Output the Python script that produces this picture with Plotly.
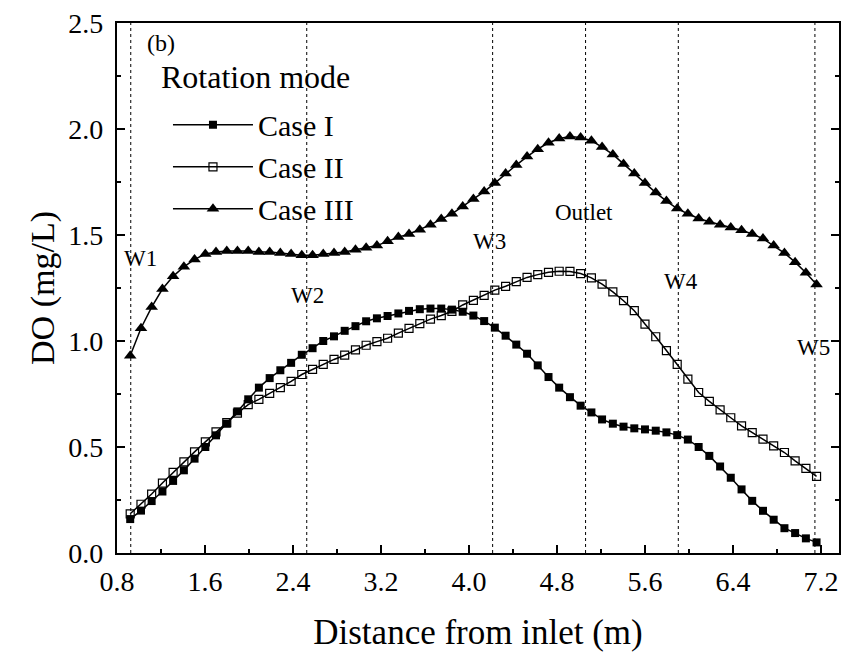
import plotly.graph_objects as go

# ---------------- data ----------------
distance = [0.920, 1.018, 1.115, 1.213, 1.310, 1.408, 1.505, 1.603, 1.700, 1.798,
            1.895, 1.993, 2.090, 2.188, 2.285, 2.383, 2.480, 2.578, 2.675, 2.773,
            2.870, 2.968, 3.065, 3.163, 3.260, 3.358, 3.455, 3.553, 3.650, 3.748,
            3.845, 3.943, 4.040, 4.138, 4.235, 4.333, 4.430, 4.528, 4.625, 4.723,
            4.820, 4.918, 5.015, 5.113, 5.210, 5.308, 5.405, 5.503, 5.600, 5.698,
            5.795, 5.893, 5.990, 6.088, 6.185, 6.283, 6.380, 6.478, 6.575, 6.673,
            6.770, 6.868, 6.965, 7.063, 7.160]

case_1 = [0.160, 0.200, 0.245, 0.290, 0.340, 0.390, 0.445, 0.500, 0.555, 0.610,
          0.668, 0.725, 0.780, 0.825, 0.862, 0.897, 0.935, 0.966, 1.000, 1.022,
          1.048, 1.070, 1.093, 1.107, 1.118, 1.130, 1.142, 1.150, 1.153, 1.153,
          1.148, 1.138, 1.120, 1.094, 1.063, 1.025, 0.983, 0.940, 0.885, 0.830,
          0.780, 0.735, 0.695, 0.663, 0.630, 0.610, 0.596, 0.588, 0.583, 0.577,
          0.569, 0.556, 0.535, 0.500, 0.458, 0.408, 0.355, 0.300, 0.246, 0.199,
          0.157, 0.117, 0.094, 0.069, 0.050]

case_2 = [0.185, 0.230, 0.278, 0.330, 0.380, 0.430, 0.477, 0.524, 0.571, 0.615,
          0.660, 0.700, 0.725, 0.753, 0.780, 0.810, 0.842, 0.866, 0.890, 0.913,
          0.933, 0.958, 0.980, 0.997, 1.013, 1.037, 1.060, 1.082, 1.103, 1.120,
          1.140, 1.170, 1.192, 1.215, 1.240, 1.258, 1.280, 1.300, 1.313, 1.324,
          1.329, 1.328, 1.318, 1.298, 1.268, 1.232, 1.190, 1.143, 1.080, 1.020,
          0.955, 0.890, 0.820, 0.757, 0.715, 0.675, 0.638, 0.600, 0.568, 0.537,
          0.505, 0.474, 0.435, 0.399, 0.361]

case_3 = [0.930, 1.060, 1.160, 1.245, 1.305, 1.350, 1.385, 1.410, 1.420, 1.425,
          1.425, 1.425, 1.420, 1.420, 1.415, 1.410, 1.405, 1.405, 1.410, 1.415,
          1.420, 1.430, 1.440, 1.450, 1.470, 1.490, 1.505, 1.525, 1.548, 1.575,
          1.600, 1.635, 1.670, 1.705, 1.745, 1.790, 1.830, 1.870, 1.905, 1.935,
          1.955, 1.965, 1.960, 1.945, 1.915, 1.880, 1.835, 1.790, 1.745, 1.700,
          1.660, 1.625, 1.600, 1.578, 1.563, 1.548, 1.535, 1.522, 1.505, 1.483,
          1.450, 1.415, 1.372, 1.322, 1.266]

series_names = ["Case I", "Case II", "Case III"]
legend_title = "Rotation mode"

section_x = [0.925, 2.525, 4.215, 5.06, 5.903, 7.145]
section_labels = ["W1", "W2", "W3", "Outlet", "W4", "W5"]
label_x = [1.01, 2.53, 4.19, 5.05, 5.93, 7.13]
label_y = [1.39, 1.215, 1.47, 1.605, 1.28, 0.97]

x_tick_vals = [0.8, 1.6, 2.4, 3.2, 4.0, 4.8, 5.6, 6.4, 7.2]
y_tick_vals = [0.0, 0.5, 1.0, 1.5, 2.0, 2.5]

# ---------------- figure ----------------
FONT = "Liberation Serif"
fig = go.Figure()

styles = [
    dict(symbol="square", size=8, color="black", line=dict(color="black", width=0)),
    dict(symbol="square-open", size=8, color="black", line=dict(color="black", width=1.2)),
    dict(symbol="triangle-up", size=11, color="black", line=dict(color="black", width=0)),
]
for name, ys, st in zip(series_names, [case_1, case_2, case_3], styles):
    fig.add_trace(go.Scatter(
        x=distance, y=ys, name=name, mode="lines+markers",
        line=dict(color="black", width=1.5),
        marker=st,
    ))

for xv in section_x:
    fig.add_shape(type="line", xref="x", yref="paper", x0=xv, x1=xv, y0=0, y1=1,
                  line=dict(color="black", width=1, dash="dot"), layer="below")

for lab, lx, ly in zip(section_labels, label_x, label_y):
    fig.add_annotation(x=lx, y=ly, xref="x", yref="y", text=lab, showarrow=False,
                       font=dict(family=FONT, size=23, color="black"))

fig.add_annotation(x=0.039, y=0.962, xref="paper", yref="paper", text="(b)",
                   showarrow=False, xanchor="left", yanchor="middle",
                   font=dict(family=FONT, size=24, color="black"))
fig.add_annotation(x=0.058, y=0.898, xref="paper", yref="paper", text=legend_title,
                   showarrow=False, xanchor="left", yanchor="middle",
                   font=dict(family=FONT, size=32, color="black"))

# page has an 8px body margin, so the figure sits at (8, 8) in the window
fig.update_layout(
    width=852, height=654,
    margin=dict(l=109, r=21, t=15, b=109),
    paper_bgcolor="white", plot_bgcolor="white",
    font=dict(family=FONT, color="black"),
    showlegend=True,
    legend=dict(
        x=0.0706, y=0.857, xanchor="left", yanchor="top",
        bgcolor="rgba(0,0,0,0)",
        font=dict(family=FONT, size=30, color="black"),
        itemwidth=80, tracegroupgap=0,
    ),
    xaxis=dict(
        range=[0.8, 7.364], tickvals=x_tick_vals, tickformat=".1f",
        ticks="inside", ticklen=8, tickwidth=1.8, tickcolor="black",
        minor=dict(dtick=0.4, tick0=0.8, ticks="inside", ticklen=4, tickwidth=1.6, tickcolor="black"),
        showline=True, linecolor="black", linewidth=2.2, mirror=True,
        showgrid=False, zeroline=False, automargin="bottom",
        ticklabelstandoff=2, ticklabeloverflow="allow",
        tickfont=dict(family=FONT, size=28, color="black"),
        title=dict(text="Distance from inlet (m)", font=dict(family=FONT, size=35, color="black"),
                   standoff=24),
    ),
    yaxis=dict(
        range=[0, 2.5], tickvals=y_tick_vals, tickformat=".1f",
        ticks="inside", ticklen=8, tickwidth=1.8, tickcolor="black",
        minor=dict(dtick=0.25, tick0=0, ticks="inside", ticklen=4, tickwidth=1.6, tickcolor="black"),
        showline=True, linecolor="black", linewidth=2.2, mirror="ticks",
        showgrid=False, zeroline=False, automargin="left",
        ticklabelstandoff=6, ticklabeloverflow="allow",
        tickfont=dict(family=FONT, size=28, color="black"),
        title=dict(text="DO (mg/L)", font=dict(family=FONT, size=34, color="black"), standoff=3),
    ),
)

fig.write_html("out.html")
